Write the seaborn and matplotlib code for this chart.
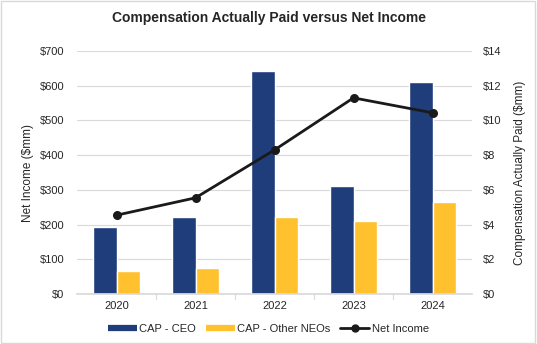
import matplotlib
matplotlib.use("Agg")
import matplotlib.pyplot as plt
from matplotlib.lines import Line2D
from matplotlib.patches import Rectangle
from matplotlib.ticker import FuncFormatter, MultipleLocator
import seaborn as sns
import pandas as pd

years = ["2020", "2021", "2022", "2023", "2024"]
cap_ceo = [3.84, 4.42, 12.87, 6.22, 12.22]
cap_other_neos = [1.34, 1.52, 4.42, 4.20, 5.28]
net_income = [227, 277, 415, 565, 522]

navy = "#1F3D7A"
gold = "#FFC22E"
grid_c = "#D9D9D9"
text_c = "#262626"

sns.set_theme(style="white")
plt.rcParams["font.family"] = ["Liberation Sans", "DejaVu Sans"]

fig = plt.figure(figsize=(5.37, 3.44), dpi=100)
ax = fig.add_axes([77 / 537, 1 - 294 / 344, (472 - 77) / 537, (294 - 51) / 344])

bars = pd.DataFrame({
    "Year": years * 2,
    "CAP": cap_ceo + cap_other_neos,
    "Series": ["CAP - CEO"] * 5 + ["CAP - Other NEOs"] * 5,
})
sns.barplot(data=bars, x="Year", y="CAP", hue="Series",
            palette=[navy, gold], width=0.6, saturation=1,
            ax=ax, legend=False, zorder=2)
ax.set_ylim(0, 14)
ax.grid(axis="y", color=grid_c, linewidth=0.8, zorder=0)
ax.set_axisbelow(True)

ax2 = ax.twinx()
ni = pd.DataFrame({"Year": years, "Net Income": net_income})
sns.lineplot(data=ni, x="Year", y="Net Income", ax=ax2, color="#1A1A1A",
             linewidth=2, marker="o", markersize=6.5, markeredgewidth=0,
             sort=False)

# CAP scale on the right, net income scale on the left
ax.yaxis.tick_right()
ax.yaxis.set_label_position("right")
ax.yaxis.set_major_locator(MultipleLocator(2))
ax.yaxis.set_major_formatter(FuncFormatter(lambda v, p: f"${v:.0f}"))
ax.set_ylabel("Compensation Actually Paid ($mm)", fontsize=8.5, color=text_c, labelpad=9)
ax.set_xlabel("")

ax2.set_ylim(0, 700)
ax2.yaxis.tick_left()
ax2.yaxis.set_label_position("left")
ax2.yaxis.set_major_locator(MultipleLocator(100))
ax2.yaxis.set_major_formatter(FuncFormatter(lambda v, p: f"${v:.0f}"))
ax2.set_ylabel("Net Income ($mm)", fontsize=8.5, color=text_c, labelpad=4)
ax2.set_xlabel("")

for a in (ax, ax2):
    for s in ("top", "left", "right"):
        a.spines[s].set_visible(False)
    a.spines["bottom"].set_color(grid_c)
    a.tick_params(axis="y", length=0, labelsize=8, labelcolor=text_c, pad=8)
ax2.tick_params(axis="y", pad=9)
ax.tick_params(axis="x", length=0, labelsize=8, labelcolor=text_c, pad=5)
ax2.spines["bottom"].set_visible(False)

# category separators on the x axis
for b in [0.5, 1.5, 2.5, 3.5]:
    ax.plot([b, b], [0, -0.02], color=grid_c, lw=0.8, clip_on=False,
            transform=ax.get_xaxis_transform())
ax.set_xlim(-0.5, 4.5)
ax2.set_xlim(-0.5, 4.5)

fig.suptitle("Compensation Actually Paid versus Net Income", x=0.5, y=0.968,
             fontsize=10, fontweight="bold", color=text_c)

handles = [
    Line2D([], [], color=navy, lw=4.5, solid_capstyle="butt"),
    Line2D([], [], color=gold, lw=4.5, solid_capstyle="butt"),
    Line2D([], [], color="#1A1A1A", lw=2, marker="o", markersize=5),
]
fig.legend(handles, ["CAP - CEO", "CAP - Other NEOs", "Net Income"],
           loc="center", bbox_to_anchor=(0.5, 1 - 329 / 344), ncol=3,
           frameon=False, fontsize=8, handlelength=2.6, handletextpad=0.2,
           columnspacing=0.9, labelcolor=text_c)

fig.patches.append(Rectangle((0.002, 0.003), 0.995, 0.994, transform=fig.transFigure,
                             fill=False, edgecolor=grid_c, lw=1))

fig.savefig("out.png", dpi=100)
